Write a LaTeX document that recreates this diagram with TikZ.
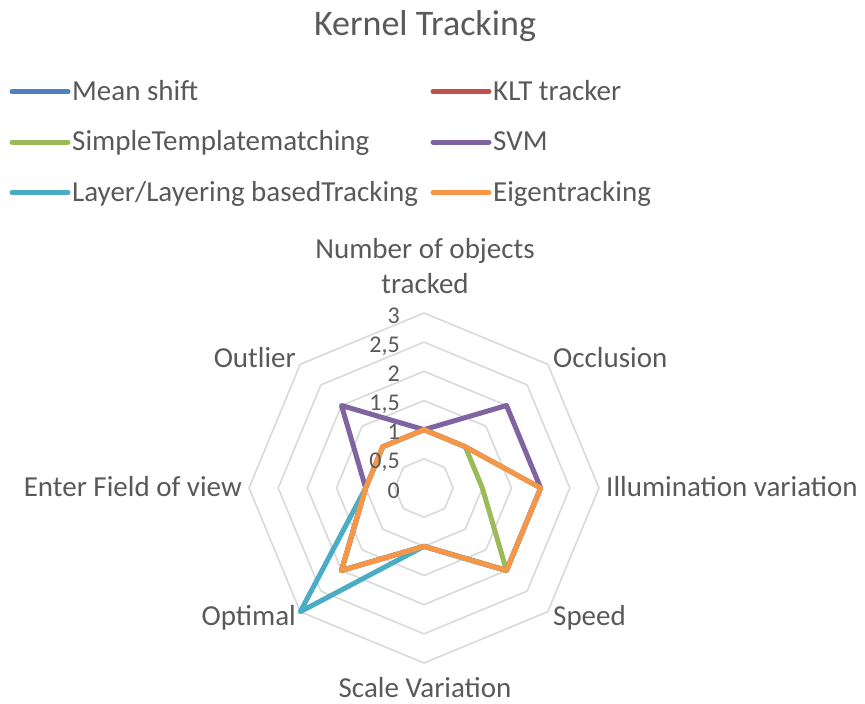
\documentclass[tikz,border=0pt]{standalone}
\usepackage{fontspec}
\setmainfont{Carlito}
\definecolor{txt}{HTML}{595959}
\definecolor{gridc}{HTML}{D9D9D9}
\definecolor{sblue}{HTML}{4F81BD}
\definecolor{sred}{HTML}{C0504D}
\definecolor{sgreen}{HTML}{9BBB59}
\definecolor{spurple}{HTML}{8064A2}
\definecolor{saqua}{HTML}{4BACC6}
\definecolor{sorange}{HTML}{F79646}
\tikzset{
  lbl/.style={text=txt, inner sep=0pt, font=\fontsize{29}{34}\selectfont},
  ttl/.style={text=txt, inner sep=0pt, font=\fontsize{36}{42}\selectfont},
  tick/.style={text=txt, inner sep=0pt, font=\fontsize{24}{28}\selectfont, anchor=base east},
  gridline/.style={draw=gridc, line width=1.6pt, line join=miter},
  series/.style={line width=5pt, line join=round, line cap=round},
  legline/.style={line width=5pt, line cap=round}
}
\begin{document}
\begin{tikzpicture}[x=1pt,y=-1pt]
\useasboundingbox (0,0) rectangle (865,704);
% title
\node[ttl, anchor=base] (title) at (425,35) {Kernel Tracking};
% legend
\foreach \n/\c/\t/\x/\y in {
  ms/sblue/{Mean shift}/12/100,
  klt/sred/{KLT tracker}/433/100,
  stm/sgreen/{SimpleTemplatematching}/12/150.5,
  svm/spurple/{SVM}/433/150.5,
  lay/saqua/{Layer/Layering basedTracking}/12/201,
  eig/sorange/{Eigentracking}/433/201}{
  \coordinate (\n-a) at (\x,\y-8.5);
  \coordinate (\n-b) at (\x+56,\y-8.5);
  \draw[legline, \c] (\n-a) -- (\n-b);
  \node[lbl, anchor=base west] (\n-t) at (\x+60,\y) {\t};
}
% radar
\begin{scope}[shift={(424,488)}, yscale=-1]
  \coordinate (c) at (0,0);
  \foreach \v in {0.5,1,1.5,2,2.5,3}{
    \draw[gridline] (90:\v*58.333) \foreach \a in {45,0,-45,-90,-135,-180,-225}{ -- (\a:\v*58.333)} -- cycle;
  }
  % series: green, purple, aqua, orange
  \foreach \col/\vals in {
    sgreen/{1,1,1,2,1,2,1,1},
    spurple/{1,2,2,2,1,2,1,2},
    saqua/{1,1,2,2,1,3,1,1},
    sorange/{1,1,2,2,1,2,1,1}}{
    \foreach \r [count=\k from 0] in \vals {
      \coordinate (p\k) at ({90-45*\k}:\r*58.333);
    }
    \draw[series, \col] (p0) -- (p1) -- (p2) -- (p3) -- (p4) -- (p5) -- (p6) -- (p7) -- cycle;
  }
\end{scope}
% tick labels
\foreach \v/\t in {0/0,0.5/{0,5},1/1,1.5/{1,5},2/2,2.5/{2,5},3/3}{
  \node[tick] at (400,{488-\v*58.333+10}) {\t};
}
% axis labels
\node[lbl, anchor=base] (ax0a) at (425,258) {Number of objects};
\node[lbl, anchor=base] (ax0b) at (425,293) {tracked};
\node[lbl, anchor=base west] (ax1) at (553,367) {Occlusion};
\node[lbl, anchor=base west] (ax2) at (606,496) {Illumination variation};
\node[lbl, anchor=base west] (ax3) at (553,625) {Speed};
\node[lbl, anchor=base] (ax4) at (425,697) {Scale Variation};
\node[lbl, anchor=base east] (ax5) at (296,625) {Optimal};
\node[lbl, anchor=base east] (ax6) at (242,496) {Enter Field of view};
\node[lbl, anchor=base east] (ax7) at (296,367) {Outlier};
\end{tikzpicture}
\end{document}
